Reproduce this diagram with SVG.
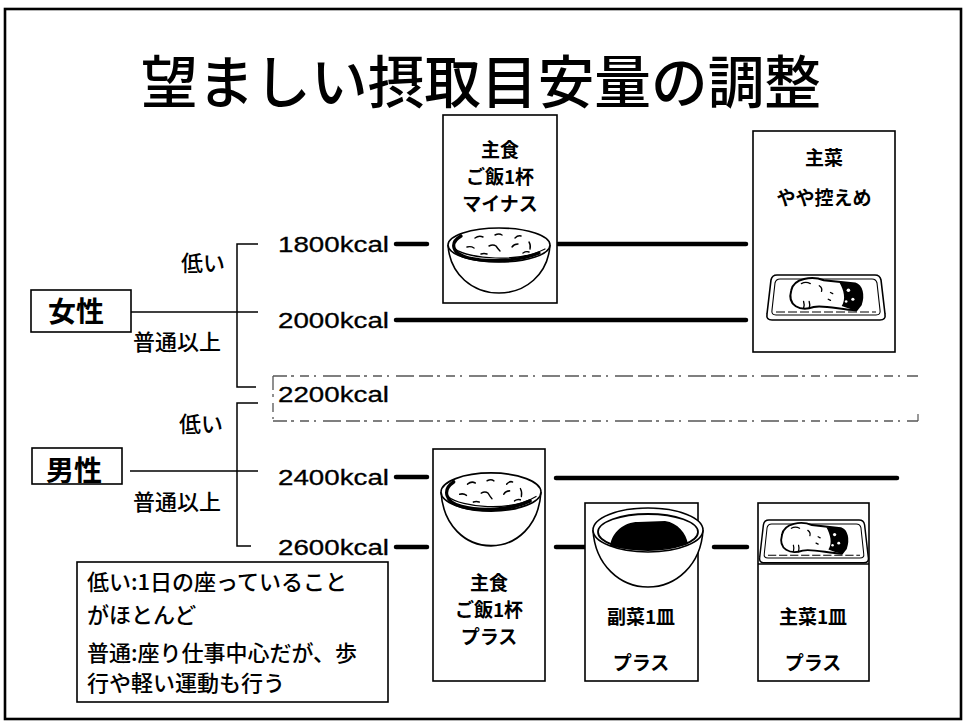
<svg xmlns="http://www.w3.org/2000/svg" width="964" height="724" viewBox="0 0 964 724">
  <style>
    .jp { font-family: "Noto Sans CJK JP", "Noto Sans", sans-serif; fill: #000; }
    .title { font-size: 57px; font-weight: 500; }
    .lbl { font-size: 19px; font-weight: 700; text-anchor: middle; }
    .sex { font-size: 28px; font-weight: 700; text-anchor: middle; }
    .lvl { font-size: 22px; font-weight: 500; }
    .note { font-size: 22px; font-weight: 500; }
    .kcal { font-family: "Liberation Sans", Arial, sans-serif; font-size: 22px; fill: #000; stroke: #000; stroke-width: 0.3; }
    .box { fill: #fff; stroke: #000; stroke-width: 1.6; }
    .thick { stroke: #000; stroke-width: 4.5; stroke-linecap: round; fill: none; }
    .thin { stroke: #000; stroke-width: 1.5; fill: none; }
    .ink { stroke: #000; fill: none; stroke-linecap: round; stroke-linejoin: round; }
    .dash { stroke: #555; stroke-width: 1.3; fill: none; stroke-dasharray: 14 4 3 6 9 5 2 7 18 5; }
  </style>
  <defs>
    <!-- bowl of rice, rim centred on the origin -->
    <g id="riceBowl">
      <path d="M-51,0 C-49,30 -26,48 0,48 C26,48 49,30 51,0" fill="#fff" stroke="#000" stroke-width="1.6"/>
      <ellipse cx="0" cy="0" rx="51" ry="17" fill="#fff" stroke="#000" stroke-width="1.6"/>
      <path class="ink" stroke-width="3.2" d="M-38,-9 C-50,-2 -47,9 -30,13 C-12,17 18,17 40,8"/>
      <path class="ink" stroke-width="1.2" d="M-44,4 C-30,14 20,18 46,4"/>
      <g class="ink" stroke-width="1.4">
        <path d="M-24,-7 q4,-3 8,-1"/>
        <path d="M-4,-10 q4,-2 7,0"/>
        <path d="M16,-7 q3,-3 6,-2"/>
        <path d="M-32,2 q4,-1 7,1"/>
        <path d="M-10,1 q4,-2 7,0 q2,3 4,5"/>
        <path d="M13,2 q2,-3 6,-3"/>
        <path d="M30,-3 q2,3 1,7"/>
        <path d="M-18,9 q3,-1 6,0"/>
        <path d="M24,8 q3,-2 6,-1"/>
      </g>
    </g>
    <!-- grilled fish on a tray, tray centred on the origin -->
    <g id="fishTray">
      <path d="M-49,-22 L49,-22 Q54,-22 55,-17 L59,17 Q60,23 54,23 L-54,23 Q-60,23 -59,17 L-55,-17 Q-54,-22 -49,-22 Z" fill="#fff" stroke="#000" stroke-width="1.6"/>
      <path d="M-46,-18 L46,-18 Q50,-18 51,-14 L54,13 Q55,18 50,18 L-50,18 Q-55,18 -54,13 L-51,-14 Q-50,-18 -46,-18 Z" fill="none" stroke="#000" stroke-width="1.1"/>
      <path d="M-50,15 L50,15" stroke="#000" stroke-width="1.2" stroke-dasharray="9 3"/>
      <g transform="scale(1.12)">
        <path d="M-31,-6 C-29,-17 -12,-19 -2,-15 L26,-12 C32,-10 34,-2 31,7 L27,12 C12,11 -3,7 -11,9 C-23,13 -35,8 -31,-6 Z" fill="#fff" stroke="#000" stroke-width="1.8"/>
        <path d="M12,-13 L26,-12 C32,-10 34,-2 31,7 L27,12 C22,11 17,9 14,8 C18,2 16,-6 12,-13 Z" fill="#000"/>
        <g class="ink" stroke-width="1.2">
          <path d="M-22,-12 q4,-2 8,0"/>
          <path d="M-6,-10 q3,2 2,5"/>
          <path d="M-20,4 q1,3 0,6"/>
          <path d="M-15,4 q1,3 0,6"/>
          <path d="M4,-4 l2,1"/>
          <path d="M2,2 l2,1"/>
        </g>
        <g fill="#fff">
          <circle cx="20" cy="-6" r="1.6"/>
          <circle cx="24" cy="2" r="1.4"/>
          <circle cx="18" cy="4" r="1.2"/>
        </g>
      </g>
    </g>
  </defs>

  <!-- slide frame -->
  <rect x="5" y="9" width="956" height="710" fill="#fff" stroke="#000" stroke-width="2.6"/>

  <!-- title -->
  <text id="title" class="jp title" x="481" y="103" text-anchor="middle" textLength="680" lengthAdjust="spacingAndGlyphs">望ましい摂取目安量の調整</text>

  <!-- connectors -->
  <g id="connectors">
    <!-- women -->
    <line class="thin" x1="131" y1="312" x2="258" y2="312"/>
    <path class="thin" d="M258,244 H237 V387 H256"/>
    <!-- men -->
    <line class="thin" x1="130" y1="471" x2="258" y2="471"/>
    <path class="thin" d="M258,403 H237 V546 H251"/>
    <!-- calorie rows -->
    <line class="thick" x1="396" y1="244" x2="427" y2="244"/>
    <line class="thick" x1="558" y1="244" x2="746" y2="244"/>
    <line class="thick" x1="396" y1="320" x2="746" y2="320"/>
    <line class="thick" x1="396" y1="477" x2="427" y2="477"/>
    <line class="thick" x1="556" y1="478" x2="897" y2="478"/>
    <line class="thick" x1="396" y1="547" x2="427" y2="547"/>
    <line class="thick" x1="556" y1="547" x2="588" y2="547"/>
    <line class="thick" x1="714" y1="547" x2="747" y2="547"/>
  </g>

  <!-- sex boxes -->
  <g id="woman">
    <rect class="box" x="31" y="290" width="100" height="42"/>
    <text class="jp sex" x="76" y="322">女性</text>
  </g>
  <g id="man">
    <rect class="box" x="32" y="448" width="90" height="36"/>
    <text class="jp sex" x="74" y="481">男性</text>
  </g>

  <!-- activity levels -->
  <g id="levels">
    <text class="jp lvl" x="181" y="271">低い</text>
    <text class="jp lvl" x="133" y="350">普通以上</text>
    <text class="jp lvl" x="179" y="432">低い</text>
    <text class="jp lvl" x="133" y="510">普通以上</text>
  </g>

  <!-- calorie labels -->
  <g id="kcal">
    <text class="kcal" x="278" y="252" textLength="111" lengthAdjust="spacingAndGlyphs">1800kcal</text>
    <text class="kcal" x="278" y="328" textLength="111" lengthAdjust="spacingAndGlyphs">2000kcal</text>
    <text class="kcal" x="278" y="485" textLength="111" lengthAdjust="spacingAndGlyphs">2400kcal</text>
    <text class="kcal" x="278" y="555" textLength="111" lengthAdjust="spacingAndGlyphs">2600kcal</text>
  </g>

  <!-- 2200 kcal band -->
  <g id="kcal2200">
    <path class="dash" d="M273,376 H918"/>
    <path class="dash" d="M273,421 H918"/>
    <path class="dash" d="M273,376 V421" stroke-dasharray="6 4 3 5"/>
    <path d="M918,414 V421" stroke="#555" stroke-width="1.2"/>
    <text class="kcal" x="278" y="402" textLength="111" lengthAdjust="spacingAndGlyphs">2200kcal</text>
  </g>

  <!-- staple food, one bowl less -->
  <g id="stapleMinus">
    <rect class="box" x="443" y="115" width="114" height="188"/>
    <text class="jp lbl" x="500" y="157">主食</text>
    <text class="jp lbl" x="500" y="184">ご飯1杯</text>
    <text class="jp lbl" x="500" y="211">マイナス</text>
    <use href="#riceBowl" transform="translate(499,245)"/>
  </g>

  <!-- main dish, slightly less -->
  <g id="mainLess">
    <rect class="box" x="753" y="131" width="142" height="221"/>
    <text class="jp lbl" x="824" y="165" font-size="21">主菜</text>
    <text class="jp lbl" x="824" y="205" font-size="21">やや控えめ</text>
    <use href="#fishTray" transform="translate(826,297)"/>
  </g>

  <!-- staple food, one bowl more -->
  <g id="staplePlus">
    <rect class="box" x="433" y="449" width="112" height="232"/>
    <use href="#riceBowl" transform="translate(491,492) scale(0.98,1.12)"/>
    <text class="jp lbl" x="489" y="590">主食</text>
    <text class="jp lbl" x="489" y="617">ご飯1杯</text>
    <text class="jp lbl" x="489" y="644">プラス</text>
  </g>

  <!-- side dish, one plate more -->
  <g id="sidePlus">
    <rect class="box" x="585" y="503" width="113" height="178"/>
    <path d="M-55,0 C-53,35 -28,57 0,57 C28,57 53,35 55,0" transform="translate(648,530)" fill="#fff" stroke="#000" stroke-width="1.6"/>
    <ellipse cx="648" cy="530" rx="55" ry="22" fill="#fff" stroke="#000" stroke-width="1.6"/>
    <ellipse cx="648" cy="532" rx="50" ry="18" fill="none" stroke="#000" stroke-width="1.8"/>
    <path d="M610,546 C612,532 624,522 638,522 L665,521 C678,523 686,533 688,544 C668,551 632,552 610,546 Z" fill="#000"/>
    <g class="ink" stroke="#fff" stroke-width="1.3">
      <path d="M628,536 l8,-3"/>
      <path d="M645,531 l10,2"/>
      <path d="M660,539 l6,-2"/>
      <path d="M640,543 l3,1"/>
      <path d="M672,530 l4,2"/>
      <path d="M620,544 l2,-3"/>
    </g>
    <text class="jp lbl" x="641" y="624" font-size="20">副菜1皿</text>
    <text class="jp lbl" x="641" y="670" font-size="20">プラス</text>
  </g>

  <!-- main dish, one plate more -->
  <g id="mainPlus">
    <rect class="box" x="758" y="503" width="111" height="178"/>
    <use href="#fishTray" transform="translate(814,541) scale(0.92,0.95)"/>
    <line x1="758" y1="564" x2="869" y2="564" stroke="#000" stroke-width="1.4"/>
    <text class="jp lbl" x="813" y="624" font-size="20">主菜1皿</text>
    <text class="jp lbl" x="813" y="670" font-size="20">プラス</text>
  </g>

  <!-- legend -->
  <g id="legend">
    <rect class="box" x="77" y="562" width="311" height="140" stroke-width="1.4"/>
    <text class="jp note" x="87" y="590">低い:1日の座っていること</text>
    <text class="jp note" x="87" y="623">がほとんど</text>
    <text class="jp note" x="87" y="661">普通:座り仕事中心だが、歩</text>
    <text class="jp note" x="87" y="691">行や軽い運動も行う</text>
  </g>
</svg>
